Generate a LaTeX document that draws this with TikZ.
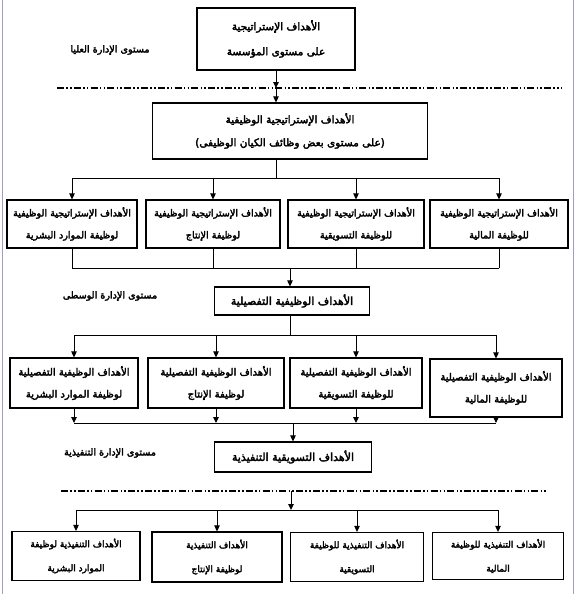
\documentclass[tikz,border=0pt]{standalone}
\usepackage{fontspec}
\newfontfamily\arabicfont[Script=Arabic,FakeBold=3]{DejaVu Sans}
\TeXXeTstate=1
\usetikzlibrary{arrows.meta}
\newcommand{\ar}[1]{\beginR #1\endR}
\begin{document}
\begin{tikzpicture}[x=1pt,y=-1pt,
  box/.style={draw, line width=1.2pt, align=center, inner sep=0pt,
    font=\arabicfont\fontsize{9.6}{22}\selectfont},
  big/.style={font=\arabicfont\fontsize{10.5}{25}\selectfont},
  mid/.style={font=\arabicfont\fontsize{10.5}{23}\selectfont},
  det/.style={font=\arabicfont\fontsize{11}{23}\selectfont},
  rowf/.style={font=\arabicfont\fontsize{10}{22}\selectfont},
  rowg/.style={font=\arabicfont\fontsize{9}{24}\selectfont},
  conn/.style={line width=1pt},
  arr/.style={line width=1pt, -{Triangle[length=6pt,width=5.5pt]}},
  lvl/.style={inner sep=0pt, font=\arabicfont\fontsize{9.6}{10}\selectfont},
  dd/.style={line width=1.6pt, dash pattern=on 7pt off 2.2pt on 1.6pt off 2.2pt on 1.6pt off 2.2pt},
  frame/.style={line width=0.8pt, draw=blue!25!gray!60}]
\fill[white] (0,0) rectangle (578,594);
\useasboundingbox (0,0) rectangle (578,594);
\draw[frame] (2.5,0) -- (2.5,594);
\draw[frame] (573,0) -- (573,594);

% level 1
\node[box,big,minimum width=158pt,minimum height=62pt] (top) at (276,39)
  {\ar{الأهداف الإستراتيجية}\\\ar{على مستوى المؤسسة}};
\node[lvl] (l1) at (110,50) {\ar{مستوى الإدارة العليا}};
\coordinate (d1L) at (57,88);
\coordinate (d1R) at (562,88);
\draw[dd] (d1L) -- (d1R);
\draw[arr] (top.south) -- (top.south |- d1L);

\node[box,mid,minimum width=275pt,minimum height=56pt] (fun) at (290,131)
  {\ar{الأهداف الإستراتيجية الوظيفية}\\\ar{(على مستوى بعض وظائف الكيان الوظيفى)}};
\draw[arr] (top.south |- d1L) -- (fun.north -| top.south);

% row 3
\node[box,minimum width=130pt,minimum height=48pt] (s1) at (72,224)
  {\ar{الأهداف الإستراتيجية الوظيفية}\\\ar{لوظيفة الموارد البشرية}};
\node[box,minimum width=134pt,minimum height=48pt] (s2) at (213,224)
  {\ar{الأهداف الإستراتيجية الوظيفية}\\\ar{لوظيفة الإنتاج}};
\node[box,minimum width=136pt,minimum height=48pt] (s3) at (356,224)
  {\ar{الأهداف الإستراتيجية الوظيفية}\\\ar{للوظيفة التسويقية}};
\node[box,minimum width=138pt,minimum height=48pt] (s4) at (499,224)
  {\ar{الأهداف الإستراتيجية الوظيفية}\\\ar{للوظيفة المالية}};
\coordinate (b1) at (276,178);
\draw[conn] (fun.south -| b1) -- (b1);
\draw[conn] (s1.north |- b1) -- (s4.north |- b1);
\foreach \n in {s1,s2,s3,s4} \draw[arr] (\n.north |- b1) -- (\n.north);

% middle level
\node[box,det,minimum width=155pt,minimum height=28pt] (det) at (292,301)
  {\ar{الأهداف الوظيفية التفصيلية}};
\node[lvl] (l2) at (110,296) {\ar{مستوى الإدارة الوسطى}};
\coordinate (b2) at (290,268);
\draw[conn] (s1.south) -- (s1.south |- b2);
\draw[conn] (s2.south) -- (s2.south |- b2);
\draw[conn] (s3.south) -- (s3.south |- b2);
\draw[conn] (s4.south) -- (s4.south |- b2);
\draw[conn] (s1.south |- b2) -- (s4.south |- b2);
\draw[arr] (b2) -- (det.north -| b2);

% row 5
\node[box,rowf,minimum width=128pt,minimum height=50pt] (t1) at (74,383)
  {\ar{الأهداف الوظيفية التفصيلية}\\\ar{لوظيفة الموارد البشرية}};
\node[box,rowf,minimum width=136pt,minimum height=50pt] (t2) at (216,383)
  {\ar{الأهداف الوظيفية التفصيلية}\\\ar{لوظيفة الإنتاج}};
\node[box,rowf,minimum width=132pt,minimum height=50pt] (t3) at (356,383)
  {\ar{الأهداف الوظيفية التفصيلية}\\\ar{للوظيفة التسويقية}};
\node[box,rowf,minimum width=132pt,minimum height=58pt] (t4) at (496,388)
  {\ar{الأهداف الوظيفية التفصيلية}\\\ar{للوظيفة المالية}};
\coordinate (b3) at (290,335);
\draw[conn] (det.south -| b3) -- (b3);
\draw[conn] (t1.north |- b3) -- (t4.north |- b3);
\foreach \n in {t1,t2,t3,t4} \draw[arr] (\n.north |- b3) -- (\n.north);

% executive level
\coordinate (b4) at (293,423);
\draw[conn] (t1.south |- b4) -- (t4.south |- b4);
\draw[arr] (t1.south) -- (t1.south |- b4);
\draw[arr] (t2.south) -- (t2.south |- b4);
\draw[arr] (t3.south) -- (t3.south |- b4);
\draw[arr] (t4.south) -- (t4.south |- b4);
\node[box,det,minimum width=157pt,minimum height=30pt] (exe) at (293,457)
  {\ar{الأهداف التسويقية التنفيذية}};
\draw[arr] (b4) -- (exe.north -| b4);
\node[lvl] (l3) at (110,453) {\ar{مستوى الإدارة التنفيذية}};

\coordinate (d2L) at (61,491);
\coordinate (d2R) at (546,491);
\draw[dd] (d2L) -- (d2R);

% row 7
\node[box,rowg,minimum width=128pt,minimum height=49pt] (u1) at (76,556)
  {\ar{الأهداف التنفيذية لوظيفة}\\\ar{الموارد البشرية}};
\node[box,rowg,minimum width=130pt,minimum height=50pt] (u2) at (217,557)
  {\ar{الأهداف التنفيذية}\\\ar{لوظيفة الإنتاج}};
\node[box,rowg,minimum width=133pt,minimum height=49pt] (u3) at (357,557)
  {\ar{الأهداف التنفيذية للوظيفة}\\\ar{التسويقية}};
\node[box,rowg,minimum width=131pt,minimum height=47pt] (u4) at (498,556)
  {\ar{الأهداف التنفيذية للوظيفة}\\\ar{المالية}};
\coordinate (d2a) at (291,491);
\coordinate (b5) at (291,510);
\draw[arr] (d2a) -- (b5);
\draw[conn] (u1.north |- b5) -- (u4.north |- b5);
\foreach \n in {u1,u2,u3,u4} \draw[arr] (\n.north |- b5) -- (\n.north);
\end{tikzpicture}
\end{document}
